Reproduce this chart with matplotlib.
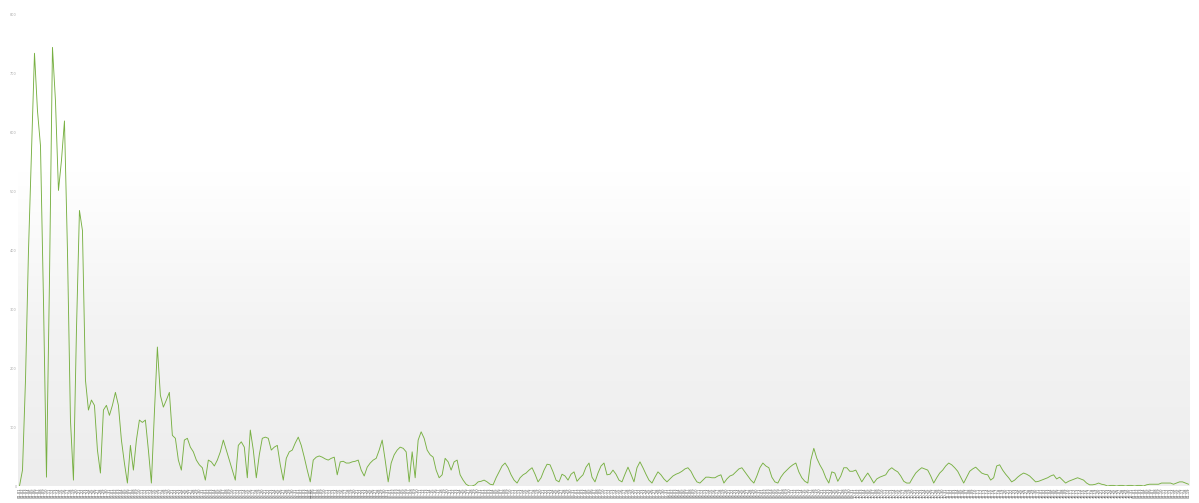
import numpy as np
import matplotlib
matplotlib.use("Agg")
import matplotlib.pyplot as plt
from matplotlib.colors import LinearSegmentedColormap

# values, one per category
values = [
    0, 27, 180, 400, 570, 735, 637, 578, 315, 15,
    350, 745, 654, 502, 553, 620, 400, 112, 10, 264,
    468, 434, 180, 129, 146, 137, 61, 22, 129, 137,
    120, 137, 159, 137, 78, 39, 5, 69, 27, 78,
    112, 108, 112, 61, 5, 124, 236, 154, 134, 146,
    159, 86, 81, 44, 27, 78, 81, 66, 58, 44,
    36, 31, 10, 44, 41, 34, 44, 58, 78, 61,
    44, 27, 10, 69, 75, 66, 14, 95, 61, 14,
    53, 81, 83, 81, 61, 66, 69, 36, 10, 47,
    58, 61, 73, 83, 69, 49, 27, 7, 44, 49,
    51, 49, 46, 44, 47, 49, 19, 41, 42, 39,
    39, 41, 42, 44, 27, 17, 32, 39, 44, 47,
    61, 78, 44, 7, 39, 53, 61, 66, 64, 58,
    7, 58, 14, 78, 92, 81, 61, 53, 49, 27,
    14, 19, 47, 41, 27, 41, 44, 19, 10, 3,
    0, 0, 2, 7, 8, 10, 7, 3, 2, 14,
    24, 34, 39, 31, 19, 10, 5, 14, 19, 22,
    27, 31, 20, 7, 14, 27, 37, 36, 24, 10,
    7, 20, 17, 10, 20, 24, 8, 14, 19, 32,
    39, 15, 7, 22, 34, 39, 19, 20, 27, 20,
    10, 7, 20, 32, 20, 7, 31, 41, 31, 20,
    10, 5, 15, 24, 19, 12, 7, 12, 17, 20,
    22, 25, 29, 31, 25, 15, 7, 5, 10, 15,
    15, 14, 14, 17, 19, 5, 12, 17, 19, 24,
    29, 31, 24, 17, 10, 5, 17, 31, 39, 34,
    31, 15, 7, 5, 15, 22, 27, 32, 36, 39,
    24, 14, 8, 5, 44, 64, 47, 36, 27, 14,
    5, 24, 22, 8, 17, 31, 31, 25, 25, 27,
    17, 7, 15, 22, 14, 5, 12, 15, 17, 19,
    27, 31, 27, 24, 17, 8, 5, 5, 14, 22,
    27, 31, 29, 27, 17, 5, 14, 22, 27, 34,
    39, 36, 31, 25, 15, 5, 15, 25, 29, 32,
    27, 22, 20, 19, 10, 14, 34, 36, 27, 20,
    14, 7, 10, 15, 19, 22, 20, 17, 12, 7,
    8, 10, 12, 14, 17, 19, 12, 15, 10, 5,
    8, 10, 12, 14, 12, 10, 5, 2, 2, 3,
    5, 3, 2, 0, 1, 1, 0, 1, 1, 0,
    1, 1, 0, 1, 1, 0, 2, 3, 3, 3,
    3, 5, 5, 5, 5, 3, 5, 7, 7, 5,
    3,
]
labels = [f"{(i // 31) % 12 + 1:02d}-{i % 31 + 1:02d}" for i in range(len(values))]
y_ticks = [0, 100, 200, 300, 400, 500, 600, 700, 800]

fig = plt.figure(figsize=(11.99, 5.03), dpi=100)
ax = fig.add_axes([18 / 1199, 17 / 503, 1172 / 1199, 471 / 503])

# soft white-to-grey backdrop
grad = LinearSegmentedColormap.from_list("bg", ["#ededed", "#f3f3f3", "#ffffff", "#ffffff"])
ax.imshow(np.linspace(0, 1, 256).reshape(-1, 1)[::-1], cmap=grad, aspect="auto",
          extent=[0, 1, 0, 1], transform=ax.transAxes, zorder=0, origin="upper")

x = np.arange(len(values))
ax.plot(x, values, color="#78b043", lw=0.65, zorder=2)

ax.set_xlim(-0.5, len(values) - 0.5)
ax.set_ylim(0, 800)
ax.set_xticks(x)
ax.set_xticklabels(labels, rotation=90, fontsize=2.6, color="#444444")
ax.set_yticks(y_ticks)
ax.set_yticklabels([str(v) for v in y_ticks], fontsize=2.5, color="#aaaaaa")
ax.tick_params(axis="both", length=0, pad=1)
for s in ax.spines.values():
    s.set_visible(False)

fig.savefig("out.png", dpi=100, facecolor="white")
